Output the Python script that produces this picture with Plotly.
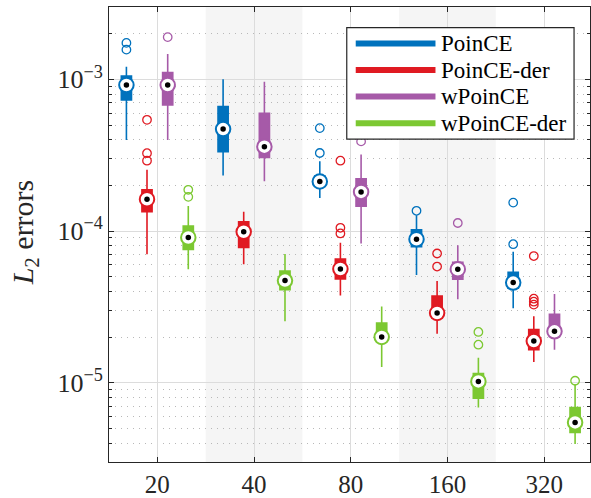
import plotly.graph_objects as go
import numpy as np

# ---------------- data ----------------
categories = ["20", "40", "80", "160", "320"]
methods = ["PoinCE", "PoinCE-der", "wPoinCE", "wPoinCE-der"]
colors = ["#0072BD", "#E01A22", "#A65AA8", "#7CC832"]

poince_lo = [3.98e-4, 2.32e-4, 1.65e-4, 5.13e-5, 3.1e-5]
poince_q1 = [7.31e-4, 3.34e-4, 1.98e-4, 7.87e-5, 4.2e-5]
poince_med = [9.18e-4, 4.7e-4, 2.12e-4, 8.83e-5, 4.57e-5]
poince_q3 = [1.05e-3, 6.62e-4, 2.3e-4, 1.02e-4, 5.35e-5]
poince_hi = [1.21e-3, 1.0e-3, 2.88e-4, 1.27e-4, 7.3e-5]
poince_out = [[1.57e-3, 1.74e-3], [], [3.27e-4, 4.77e-4], [1.36e-4], [8.19e-5, 1.54e-4]]

poinceder_lo = [7.02e-5, 6.03e-5, 3.76e-5, 2.1e-5, 1.37e-5]
poinceder_q1 = [1.34e-4, 7.8e-5, 4.83e-5, 2.67e-5, 1.65e-5]
poinceder_med = [1.62e-4, 9.89e-5, 5.62e-5, 2.88e-5, 1.88e-5]
poinceder_q3 = [1.87e-4, 1.15e-4, 6.53e-5, 3.73e-5, 2.24e-5]
poinceder_hi = [2.54e-4, 1.34e-4, 8.36e-5, 4.69e-5, 2.74e-5]
poinceder_out = [[2.91e-4, 3.26e-4, 5.41e-4], [], [9.64e-5, 1.05e-4, 2.91e-4],
                 [5.83e-5, 7.11e-5], [3.27e-5, 3.42e-5, 3.58e-5, 6.84e-5]]

wpoince_lo = [3.98e-4, 2.13e-4, 8.28e-5, 3.55e-5, 1.65e-5]
wpoince_q1 = [6.79e-4, 3.06e-4, 1.46e-4, 4.81e-5, 2.07e-5]
wpoince_med = [9.18e-4, 3.6e-4, 1.81e-4, 5.6e-5, 2.18e-5]
wpoince_q3 = [1.11e-3, 5.98e-4, 2.21e-4, 6.21e-5, 2.83e-5]
wpoince_hi = [1.47e-3, 9.66e-4, 3.19e-4, 8.07e-5, 3.84e-5]
wpoince_out = [[1.9e-3], [], [3.9e-4], [1.13e-4], []]

wpoinceder_lo = [5.6e-5, 2.54e-5, 1.27e-5, 6.86e-6, 3.94e-6]
wpoinceder_q1 = [7.56e-5, 4.1e-5, 1.88e-5, 7.89e-6, 4.7e-6]
wpoinceder_med = [9.06e-5, 4.71e-5, 2.0e-5, 1.02e-5, 5.47e-6]
wpoinceder_q3 = [1.08e-4, 5.45e-5, 2.47e-5, 1.15e-5, 6.86e-6]
wpoinceder_hi = [1.46e-4, 7.05e-5, 3.18e-5, 1.46e-5, 9.75e-6]
wpoinceder_out = [[1.68e-4, 1.87e-4], [], [], [1.78e-5, 2.16e-5], [1.03e-5]]

ytick_vals = [1e-5, 1e-4, 1e-3]
ytick_text = ["10<sup>−5</sup>", "10<sup>−4</sup>", "10<sup>−3</sup>"]

# ---------------- figure ----------------
W, H = 591, 498
ML, MR, MT, MB = 108.5, 0, 7.3, 33.5
PW, PH = W - ML - MR, H - MT - MB

FONT = "Liberation Serif"
AXC = "#262626"

stats = [
    (poince_lo, poince_q1, poince_med, poince_q3, poince_hi, poince_out),
    (poinceder_lo, poinceder_q1, poinceder_med, poinceder_q3, poinceder_hi, poinceder_out),
    (wpoince_lo, wpoince_q1, wpoince_med, wpoince_q3, wpoince_hi, wpoince_out),
    (wpoinceder_lo, wpoinceder_q1, wpoinceder_med, wpoinceder_q3, wpoinceder_hi, wpoinceder_out),
]
offsets = [-0.32, -0.107, 0.107, 0.32]
base = np.arange(1, len(categories) + 1)

fig = go.Figure()

for (lo, q1, med, q3, hi, out), off, col, name in zip(stats, offsets, colors, methods):
    xs = list(base + off)
    fig.add_trace(go.Box(
        x=xs, q1=q1, median=med, q3=q3, lowerfence=lo, upperfence=hi,
        width=0.105, whiskerwidth=0, boxpoints=False,
        fillcolor=col, line=dict(color=col, width=1.6),
        name=name, showlegend=False, hoverinfo="skip",
    ))
    ox, oy = [], []
    for xi, vals in zip(xs, out):
        for v in vals:
            ox.append(xi)
            oy.append(v)
    fig.add_trace(go.Scatter(
        x=ox, y=oy, mode="markers", showlegend=False, hoverinfo="skip",
        marker=dict(symbol="circle-open", size=8.5, color=col, line=dict(width=1.3, color=col)),
    ))
    fig.add_trace(go.Scatter(
        x=xs, y=med, mode="markers", showlegend=False, hoverinfo="skip",
        marker=dict(symbol="circle", size=14.5, color="white", line=dict(width=2, color=col)),
    ))
    fig.add_trace(go.Scatter(
        x=xs, y=med, mode="markers", showlegend=False, hoverinfo="skip",
        marker=dict(symbol="circle", size=5.5, color="black", line=dict(width=0)),
    ))

# shaded alternate categories
shapes = []
for i, c in enumerate(base):
    if i % 2 == 1:
        shapes.append(dict(type="rect", xref="x", yref="paper", x0=c - 0.5, x1=c + 0.5,
                           y0=0, y1=1, fillcolor="#f5f5f5", line=dict(width=0), layer="below"))

# manual legend (pixel helpers)
def px(xp):
    return (xp - ML) / PW

def py(yp):
    return 1 - (yp - MT) / PH

shapes.append(dict(type="rect", xref="paper", yref="paper", x0=px(347), x1=px(575),
                   y0=py(140), y1=py(28), fillcolor="white", line=dict(color=AXC, width=1.2),
                   layer="above"))
annotations = []
leg_y = [44, 70.7, 97.3, 124]
for name, col, yy in zip(methods, colors, leg_y):
    shapes.append(dict(type="line", xref="paper", yref="paper", x0=px(356), x1=px(436),
                       y0=py(yy), y1=py(yy), line=dict(color=col, width=6), layer="above"))
    annotations.append(dict(text=name, xref="paper", yref="paper", x=px(440), y=py(yy),
                            xanchor="left", yanchor="middle", showarrow=False,
                            font=dict(family=FONT, size=23, color="black")))

# y-axis title
annotations.append(dict(text="<i>L</i><sub>2</sub> errors", xref="paper", yref="paper",
                        x=px(24), y=py(234), xanchor="center", yanchor="middle",
                        textangle=-90, showarrow=False,
                        font=dict(family=FONT, size=30, color=AXC)))

minor_vals = [k * 10.0 ** e for e in range(-6, -2) for k in range(2, 10)]

fig.update_layout(
    width=W, height=H,
    margin=dict(l=ML, r=MR, t=MT, b=MB, pad=0),
    paper_bgcolor="white", plot_bgcolor="white",
    showlegend=False, boxmode="overlay",
    shapes=shapes, annotations=annotations,
    font=dict(family=FONT, color=AXC),
)
fig.update_xaxes(
    range=[0.5, 0.5 + PW / 97.0],
    tickmode="array", tickvals=list(base), ticktext=categories,
    tickfont=dict(family=FONT, size=25, color=AXC),
    ticks="inside", ticklen=5, tickcolor=AXC, tickwidth=1,
    showline=True, linecolor=AXC, linewidth=1, mirror="ticks",
    showgrid=True, gridcolor="#dcdcdc", gridwidth=1, zeroline=False,
)
fig.update_yaxes(
    type="log", range=[np.log10(3.0e-6), np.log10(3.0e-3)],
    tickmode="array", tickvals=ytick_vals, ticktext=ytick_text,
    tickfont=dict(family=FONT, size=26, color=AXC),
    ticks="inside", ticklen=5, tickcolor=AXC, tickwidth=1,
    showline=True, linecolor=AXC, linewidth=1, mirror="ticks",
    showgrid=True, gridcolor="#dcdcdc", gridwidth=1, zeroline=False,
    minor=dict(tickmode="array", tickvals=minor_vals, ticks="inside", ticklen=3,
               tickcolor=AXC, showgrid=True, gridcolor="#b8b8b8", griddash="1px,5px",
               gridwidth=1),
)

fig.write_html("out.html")
